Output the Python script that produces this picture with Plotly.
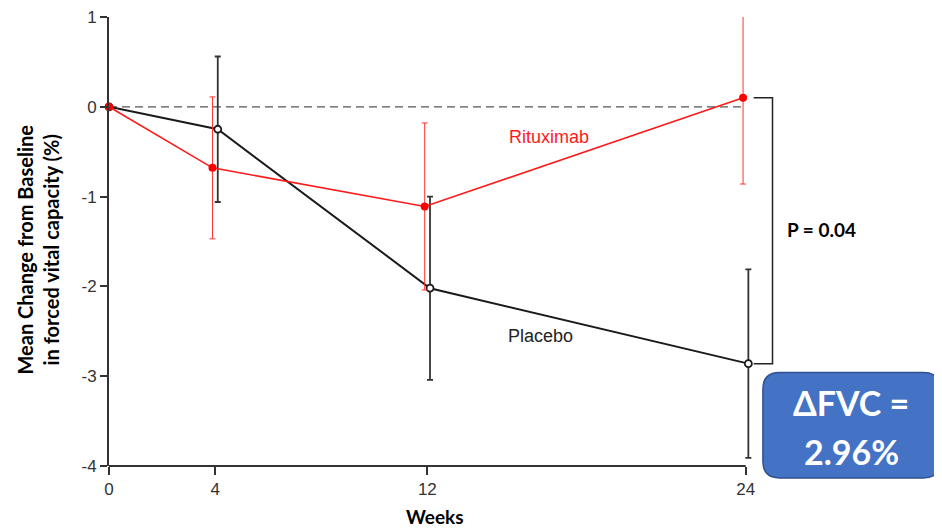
import plotly.graph_objects as go

weeks = [0, 4, 12, 24]
ritux_mean = [0.0, -0.68, -1.11, 0.10]
ritux_err = [0.0, 0.79, 0.93, 0.96]
placebo_mean = [0.0, -0.25, -2.02, -2.86]
placebo_err = [0.0, 0.81, 1.02, 1.05]
x_ticks = [0, 4, 12, 24]
y_ticks = [1, 0, -1, -2, -3, -4]

OFF = 0.1
rx = [w - OFF if w > 0 else w for w in weeks]
px = [w + OFF if w > 0 else w for w in weeks]

PX_PER_WEEK = 26.52
PLOT_W = 832.7

fig = go.Figure()

# baseline dashed line
fig.add_shape(type="line", xref="x", yref="y", x0=0, x1=24, y0=0, y1=0,
              line=dict(color="#555555", width=1.2, dash="8px,5px"), layer="below")
# x axis line
fig.add_shape(type="line", xref="x", yref="paper", x0=0, x1=24, y0=0, y1=0,
              line=dict(color="#333333", width=2))

fig.add_trace(go.Scatter(
    x=px, y=placebo_mean, mode="lines+markers", cliponaxis=False,
    line=dict(color="#1a1a1a", width=2),
    marker=dict(symbol="circle", size=7, color="white",
                line=dict(color="#1a1a1a", width=1.8)),
    error_y=dict(type="data", array=placebo_err, color="#333333",
                 thickness=1.8, width=3),
    showlegend=False))

fig.add_trace(go.Scatter(
    x=rx, y=ritux_mean, mode="lines+markers", cliponaxis=False,
    line=dict(color="#ff1a1a", width=1.6),
    marker=dict(symbol="circle", size=8, color="#ff0000"),
    error_y=dict(type="data", array=ritux_err, color="#ff3333",
                 thickness=1, width=3),
    showlegend=False))

# bracket between week-24 values
bx_in = 24.3
bx_out = 25.01
fig.add_shape(type="path", xref="x", yref="y",
              path=f"M {bx_in},{ritux_mean[3]} L {bx_out},{ritux_mean[3]} "
                   f"L {bx_out},{placebo_mean[3]} L {bx_in},{placebo_mean[3]}",
              line=dict(color="#222222", width=1.5))

fig.add_annotation(x=16.6, y=-0.34, xref="x", yref="y", text="Rituximab",
                   showarrow=False, font=dict(family="Liberation Sans", size=18, color="#ff1a1a"))
fig.add_annotation(x=16.28, y=-2.55, xref="x", yref="y", text="Placebo",
                   showarrow=False, font=dict(family="Liberation Sans", size=18, color="#222222"))
fig.add_annotation(x=26.85, y=-1.37, xref="x", yref="y", text="<b>P = 0.04</b>",
                   showarrow=False, font=dict(family="Lato", size=19, color="black"))
fig.add_annotation(x=12.3, y=-0.113, xref="x", yref="paper", text="<b>Weeks</b>",
                   showarrow=False, xanchor="center", yanchor="middle",
                   font=dict(family="Lato", size=19, color="black"))
fig.add_annotation(x=-0.0853, y=0.482, xref="paper", yref="paper", textangle=-90,
                   text="<b>Mean Change from Baseline<br>in forced vital capacity (%)</b>",
                   showarrow=False, xanchor="center", yanchor="middle",
                   font=dict(family="Lato", size=20, color="black"))

# blue rounded box (paper coords)
x0, x1, y0, y1 = 0.785, 0.9976, -0.0265, 0.208
rx_, ry_ = 0.02, 0.037
path = (f"M {x0+rx_},{y1} L {x1-rx_},{y1} Q {x1},{y1} {x1},{y1-ry_} "
        f"L {x1},{y0+ry_} Q {x1},{y0} {x1-rx_},{y0} L {x0+rx_},{y0} "
        f"Q {x0},{y0} {x0},{y0+ry_} L {x0},{y1-ry_} Q {x0},{y1} {x0+rx_},{y1} Z")
fig.add_shape(type="path", xref="paper", yref="paper", path=path,
              fillcolor="#4472c4", line=dict(color="#2f528f", width=1.5))
cx = (x0 + x1) / 2
fig.add_annotation(x=cx, y=0.142, xref="paper", yref="paper", text="<b>ΔFVC =</b>",
                   showarrow=False, xanchor="center", yanchor="middle",
                   font=dict(family="Lato", size=34, color="white"))
fig.add_annotation(x=cx, y=0.033, xref="paper", yref="paper", text="<b>2.96%</b>",
                   showarrow=False, xanchor="center", yanchor="middle",
                   font=dict(family="Lato", size=34, color="white"))

fig.update_layout(
    width=934, height=522,
    margin=dict(l=101, r=0, t=6, b=64),
    paper_bgcolor="white", plot_bgcolor="white",
    xaxis=dict(range=[0, PLOT_W / PX_PER_WEEK], tickvals=x_ticks, ticktext=[str(v) for v in x_ticks],
               showgrid=False, zeroline=False, showline=False,
               ticks="outside", ticklen=8, tickwidth=1.5, tickcolor="#333333",
               tickfont=dict(family="Liberation Sans", size=17, color="#333333")),
    yaxis=dict(range=[-4, 1], tickvals=y_ticks, ticktext=[str(v) for v in y_ticks],
               showgrid=False, zeroline=False, showline=True, linecolor="#333333", linewidth=2,
               ticks="outside", ticklen=7, tickwidth=1.5, tickcolor="#333333",
               ticklabeloverflow="allow",
               tickfont=dict(family="Liberation Sans", size=17, color="#333333")),
)

fig.write_html("out.html")
